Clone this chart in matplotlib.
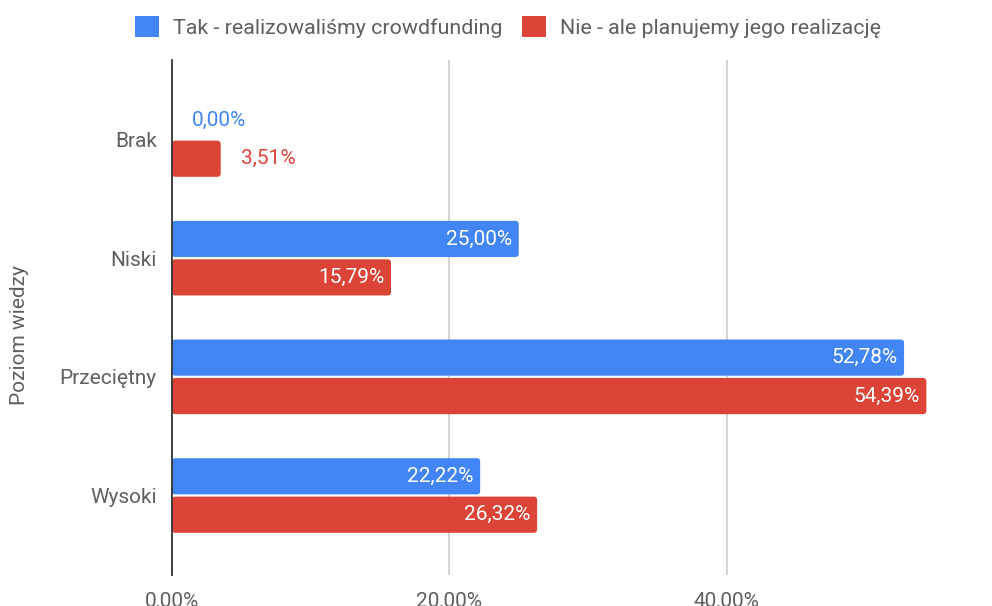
import numpy as np
import matplotlib.pyplot as plt
from matplotlib.patches import FancyBboxPatch, Patch

plt.rcParams["font.family"] = ["Roboto", "DejaVu Sans"]

categories = ["Brak", "Niski", "Przeciętny", "Wysoki"]
tak = [0.00, 25.00, 52.78, 22.22]
nie = [3.51, 15.79, 54.39, 26.32]
series_names = ["Tak - realizowaliśmy crowdfunding", "Nie - ale planujemy jego realizację"]
tick_values = [0, 20, 40]

blue = "#4285F4"
red = "#DB4437"
grey = "#5f5f5f"
fs = 15

fig = plt.figure(figsize=(9.92, 6.06), dpi=100)
ax = fig.add_axes([172 / 992, 31 / 606, 820 / 992, 515 / 606])

y = np.arange(len(categories))
h = 0.305
off = 0.162
xmax = 820 / 13.87
ax.set_xlim(0, xmax)
ax.set_ylim(len(categories) - 0.33, -0.67)

# px per data unit, used to keep the corner radius round
px_x = 13.87
px_y = 515 / (len(categories) - 0.33 + 0.67)
r = 3.5 / px_x


def rounded_bars(vals, ypos, color):
    for v, yy in zip(vals, ypos):
        if v <= 0:
            continue
        p = FancyBboxPatch((0, yy - h / 2), v, h,
                           boxstyle=f"round,pad=0,rounding_size={r}",
                           mutation_aspect=px_x / px_y,
                           fc=color, ec="none", zorder=3)
        ax.add_patch(p)


rounded_bars(tak, y - off, blue)
rounded_bars(nie, y + off, red)


def fmt(v):
    return f"{v:.2f}".replace(".", ",") + "%"


for vals, ypos, color in [(tak, y - off, blue), (nie, y + off, red)]:
    for v, yy in zip(vals, ypos):
        if v < 6:
            ax.text(v + 1.45, yy, fmt(v), color=color, fontsize=fs,
                    ha="left", va="center", zorder=4)
        else:
            ax.text(v - 0.5, yy, fmt(v), color="white", fontsize=fs,
                    ha="right", va="center", zorder=4)

ax.set_yticks(y)
ax.set_yticklabels(categories, fontsize=fs, color=grey)
ax.set_xticks(tick_values)
ax.set_xticklabels([fmt(t) for t in tick_values], fontsize=fs, color=grey)
ax.tick_params(length=0, pad=11)
ax.tick_params(axis="x", pad=12)
ax.grid(axis="x", color="#cccccc", linewidth=1.2, zorder=0)
ax.set_axisbelow(True)
for s in ["top", "right", "bottom"]:
    ax.spines[s].set_visible(False)
ax.spines["left"].set_color("#333333")
ax.spines["left"].set_linewidth(1.3)
ax.spines["left"].set_zorder(5)

ax.set_ylabel("Poziom wiedzy", fontsize=fs, color=grey, labelpad=0)
ax.yaxis.set_label_coords(-143 / 820, 0.466)

handles = [Patch(fc=blue, ec="none"), Patch(fc=red, ec="none")]
fig.legend(handles, series_names, loc="center", ncol=2,
           bbox_to_anchor=(508 / 992, 1 - 27 / 606), frameon=False,
           fontsize=15.4, labelcolor=grey, handlelength=1.1, handleheight=1.1,
           handletextpad=0.65, columnspacing=0.95)

fig.savefig("out.png", dpi=100)
